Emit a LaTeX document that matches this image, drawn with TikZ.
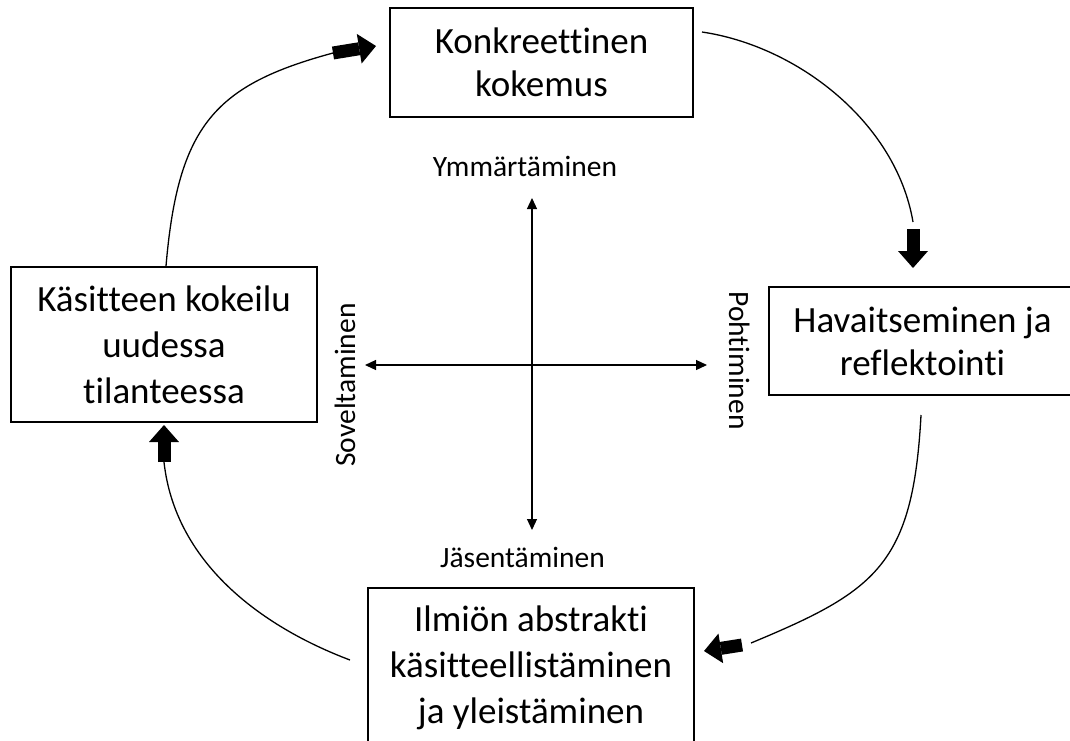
\documentclass[tikz,border=0pt]{standalone}
\usepackage{fontspec}
\setmainfont{Carlito}[Ligatures=NoCommon]
\usetikzlibrary{arrows.meta}
\begin{document}
\begin{tikzpicture}[x=1pt,y=-1pt,
  box/.style={draw, line width=1.8pt, inner sep=0pt, align=center, font=\fontsize{37}{43}\selectfont},
  box3/.style={box, font=\fontsize{37}{46}\selectfont},
  lbl/.style={font=\fontsize{29.5}{35}\selectfont, inner sep=0pt, anchor=base},
  flow/.style={line width=1.3pt},
  axisarrow/.style={line width=1.2pt, {Triangle[length=11pt,width=10pt]}-{Triangle[length=11pt,width=10pt]}},
  blockarr/.style={line width=13pt, -{Triangle[length=17pt,width=30pt,line width=0pt]}}
]
\clip (0,0) rectangle (1070,740);
\fill[white] (0,0) rectangle (1070,740);

% boxes
\node[box, minimum width=303pt, minimum height=109pt] (konk) at (541.5,62.5) {Konkreettinen\\kokemus};
\node[box, minimum width=307pt, minimum height=108pt] (hav) at (922.5,341) {Havaitseminen ja\\reflektointi};
\node[box3, minimum width=306pt, minimum height=155pt] (kase) at (164,344.5) {Käsitteen kokeilu\\uudessa\\tilanteessa};
\node[box3, minimum width=326pt, minimum height=159pt] (ilm) at (531,667.5) {Ilmiön abstrakti\\käsitteellistäminen\\ja yleistäminen};

% axis labels
\node[lbl] (ymm) at (525,176) {Ymmärtäminen};
\node[lbl] (jas) at (522.5,567) {Jäsentäminen};
\node[lbl, rotate=-90] (poh) at (729,360.5) {Pohtiminen};
\node[lbl, rotate=90] (sov) at (355,385) {Soveltaminen};

% cross
\coordinate (ctop) at (532,198);
\coordinate (cbot) at (532,530);
\coordinate (cleft) at (365,365);
\coordinate (cright) at (707,365);
\draw[axisarrow] (cbot) -- (ctop);
\draw[axisarrow] (cleft) -- (cright);

% cycle coordinates
\coordinate (t1) at (333,53);   \coordinate (h1) at (376,46);
\coordinate (s2) at (702,32);   \coordinate (e2) at (913,222);
\coordinate (t2) at (913,229);  \coordinate (h2) at (913,268);
\coordinate (s3) at (921,415);  \coordinate (e3) at (751,643);
\coordinate (t3) at (742,645);  \coordinate (h3) at (704,651);
\coordinate (s4) at (350,660);
\coordinate (t4) at (164,462);  \coordinate (h4) at (164,425);

% arcs
\draw[flow] ([xshift=2pt]kase.north) .. controls (178,125) and (215,85) .. (t1);
\draw[flow] (s2) .. controls (797,46) and (896,122) .. (e2);
\draw[flow] (s3) .. controls (913,565) and (876,591) .. (e3);
\draw[flow] (s4) .. controls (260,626) and (175,562) .. (t4);

% block arrows
\draw[blockarr] (t1) -- (h1);
\draw[blockarr] (t2) -- (h2);
\draw[blockarr] (t3) -- (h3);
\draw[blockarr] (t4) -- (h4);
\end{tikzpicture}
\end{document}
